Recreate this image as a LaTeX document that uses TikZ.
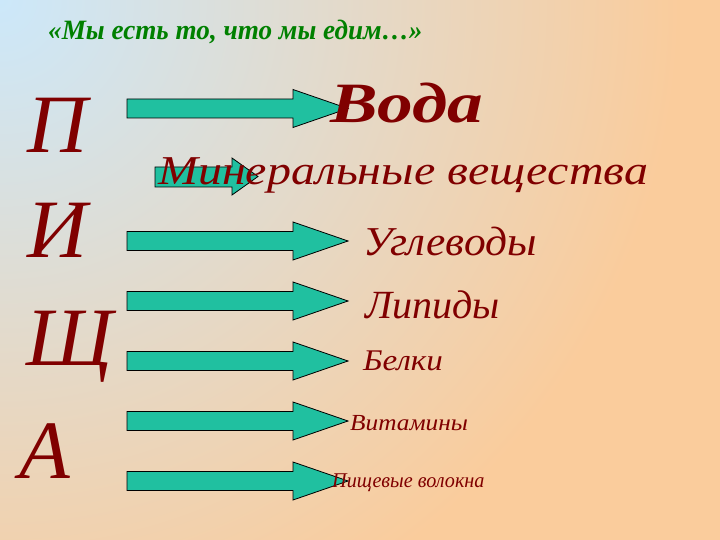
\documentclass[tikz,border=0pt]{standalone}
\usepackage{fontspec}
\setmainfont{Liberation Serif}
\usetikzlibrary{positioning}
\newcommand{\stretchfont}[2]{\fontsize{#1}{#1}\selectfont\itshape\addfontfeature{FakeStretch=#2}}
\tikzstyle{letter} = [text=darkred, font=\fontsize{83}{83}\selectfont\itshape, anchor=base, inner sep=0pt]
\tikzstyle{food} = [text=darkred, anchor=base west, inner sep=0pt]
\tikzstyle{blockarrow} = [draw=black, fill=arrowgreen, line width=0.8pt, line join=miter]

\begin{document}
\begin{tikzpicture}[x=1pt,y=-1pt]
\definecolor{darkred}{RGB}{128,0,0}
\definecolor{titlegreen}{RGB}{0,128,0}
\definecolor{arrowgreen}{RGB}{32,192,160}
\definecolor{bgblue}{RGB}{204,232,250}
\definecolor{bgpeach}{RGB}{250,204,156}
    \useasboundingbox (0,0) rectangle (720,540);
    % Background
    \fill[bgpeach] (0,0) rectangle (720,540);
    \begin{scope}
    \clip (0,0) rectangle (720,540);
    \shade[inner color=bgblue, outer color=bgpeach] (0,0) circle (680);
    \end{scope}
    % Title
    \node[text=titlegreen, anchor=base west, inner sep=0pt,
        font=\fontsize{28}{28}\selectfont\bfseries\itshape\addfontfeature{FakeStretch=0.97}] (title) at (48,40)
        {«Мы есть то, что мы едим…»};
    % Letters
    \node[letter] (p) at (57,153) {П};
    \node[letter] (i) at (57,257) {И};
    \node[letter] (shch) at (70,365) {Щ};
    \node[letter] (a) at (45,478) {А};
    % Arrows
    \draw[blockarrow] (155,167) -- (232,167) -- (232,158) -- (258,176.5)
        -- (232,195) -- (232,187) -- (155,187) -- cycle;
    \foreach \yc in {108.5,241,301,361,421,481}
        \draw[blockarrow] (127,\yc-9.5) -- (293,\yc-9.5) -- (293,\yc-19)
            -- (348,\yc) -- (293,\yc+19) -- (293,\yc+9.5) -- (127,\yc+9.5) -- cycle;
    % Nutrients
    \node[food, font=\stretchfont{57}{1.25}\bfseries] (water) at (330,123) {Вода};
    \node[food, font=\stretchfont{41}{1.17}] (minerals) at (158,185) {Минеральные вещества};
    \node[food, font=\stretchfont{41}{1.06}] (carbs) at (363,255) {Углеводы};
    \node[food, font=\stretchfont{40}{1}] (lipids) at (365,318) {Липиды};
    \node[food, font=\stretchfont{30}{1.1}] (proteins) at (363,370) {Белки};
    \node[food, font=\stretchfont{23}{1.1}] (vitamins) at (350,430) {Витамины};
    \node[food, font=\stretchfont{21}{0.96}] (fibre) at (332,487) {Пищевые волокна};
\end{tikzpicture}
\end{document}
